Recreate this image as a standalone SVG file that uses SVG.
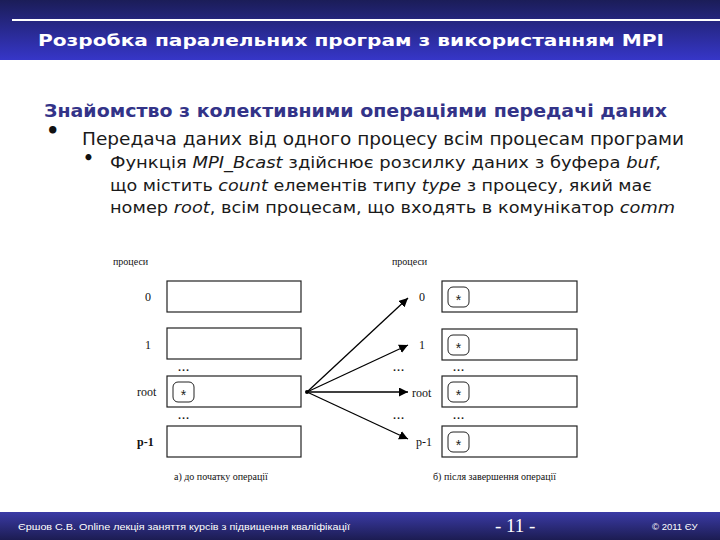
<svg xmlns="http://www.w3.org/2000/svg" width="720" height="540" viewBox="0 0 720 540">
<defs>
<linearGradient id="hdr" x1="0" y1="0" x2="0" y2="1">
<stop offset="0" stop-color="#1b1d58"/>
<stop offset="1" stop-color="#3636c8"/>
</linearGradient>
<linearGradient id="ftr" x1="0" y1="0" x2="0" y2="1">
<stop offset="0" stop-color="#3b3ba6"/>
<stop offset="1" stop-color="#1c1c52"/>
</linearGradient>
<marker id="ah" viewBox="0 0 10 10" refX="10" refY="5" markerWidth="9" markerHeight="9" markerUnits="userSpaceOnUse" orient="auto">
<path d="M0,0 L10,5 L0,10 z" fill="#000"/>
</marker>
<style>
.box{fill:#fff;stroke:#222;stroke-width:1.2}
.st{fill:#fff;stroke:#222;stroke-width:1}
.lbl{font-family:"Liberation Serif",serif;font-size:12px;fill:#111}
.sm{font-family:"Liberation Serif",serif;font-size:10px;fill:#111}
.dots{font-family:"Liberation Sans",sans-serif;font-size:11px;font-weight:bold;fill:#222;letter-spacing:1px}
.star{font-family:"Liberation Sans",sans-serif;font-size:14px;fill:#222;text-anchor:middle}
.body{font-family:"DejaVu Sans","Liberation Sans",sans-serif;fill:#1a1a1a}
.bul{font-family:"DejaVu Sans","Liberation Sans",sans-serif;fill:#111;font-weight:bold}
.ft{font-family:"Liberation Sans",sans-serif;font-size:9.5px;fill:#fff}
.conn{stroke:#000;stroke-width:1.3;fill:none}
</style>
</defs>
<rect width="720" height="540" fill="#fff"/>
<rect x="0" y="0" width="720" height="60" fill="url(#hdr)"/>
<line x1="12" y1="20" x2="720" y2="20" stroke="#fff" stroke-width="2"/>
<text x="38" y="46" font-family="DejaVu Sans,sans-serif" font-weight="bold" font-size="16.5" fill="#fff" textLength="626" lengthAdjust="spacingAndGlyphs">Розробка паралельних програм з використанням MPI</text>

<text x="44" y="117" class="body" font-weight="bold" font-size="17" style="fill:#333388" textLength="623" lengthAdjust="spacingAndGlyphs">Знайомство з колективними операціями передачі даних</text>
<text x="46" y="138" class="bul" font-size="21">•</text>
<text x="82" y="145" class="body" font-size="17" textLength="602" lengthAdjust="spacingAndGlyphs">Передача даних від одного процесу всім процесам програми</text>
<text x="83" y="164" class="bul" font-size="17">•</text>
<text x="110" y="168" class="body" font-size="15" textLength="551" lengthAdjust="spacingAndGlyphs">Функція <tspan font-style="italic">MPI_Bcast</tspan> здійснює розсилку даних з буфера <tspan font-style="italic">buf</tspan>,</text>
<text x="110" y="191" class="body" font-size="15" textLength="542" lengthAdjust="spacingAndGlyphs">що містить <tspan font-style="italic">count</tspan> елементів типу <tspan font-style="italic">type</tspan>  з процесу, який має</text>
<text x="110" y="213" class="body" font-size="15" textLength="565" lengthAdjust="spacingAndGlyphs">номер <tspan font-style="italic">root</tspan>, всім процесам, що входять в комунікатор <tspan font-style="italic">comm</tspan></text>

<g id="left">
<text x="113" y="265" class="sm">процеси</text>
<text x="145" y="301" class="lbl">0</text>
<text x="145" y="349" class="lbl">1</text>
<text x="137" y="396" class="lbl">root</text>
<text x="137" y="446" class="lbl" font-weight="bold">p-1</text>
<text x="178" y="371" class="dots">...</text>
<text x="178" y="419" class="dots">...</text>
<text x="174" y="480" class="sm">а) до початку операції</text>
</g>
<g id="l0"><rect class="box" x="167" y="281" width="134" height="31"/></g>
<g id="l1"><rect class="box" x="167" y="328" width="134" height="31"/></g>
<g id="lroot"><rect class="box" x="167" y="376" width="134" height="31"/><rect class="st" x="173" y="382" width="21" height="20" rx="5"/><text x="183.5" y="400" class="star">*</text></g>
<g id="lp1"><rect class="box" x="167" y="426" width="134" height="31"/></g>

<g id="right">
<text x="392" y="265" class="sm">процеси</text>
<text x="419" y="301" class="lbl">0</text>
<text x="419" y="349" class="lbl">1</text>
<text x="412" y="397" class="lbl">root</text>
<text x="416" y="446" class="lbl">p-1</text>
<text x="393" y="371" class="dots">...</text>
<text x="393" y="419" class="dots">...</text>
<text x="453" y="371" class="dots">...</text>
<text x="453" y="419" class="dots">...</text>
<text x="433" y="480" class="sm">б) після завершення операції</text>
</g>
<g id="r0"><rect class="box" x="442" y="281" width="135" height="31"/><rect class="st" x="448" y="287" width="21" height="20" rx="5"/><text x="458.5" y="305" class="star">*</text></g>
<g id="r1"><rect class="box" x="442" y="329" width="135" height="31"/><rect class="st" x="448" y="335" width="21" height="20" rx="5"/><text x="458.5" y="353" class="star">*</text></g>
<g id="rroot"><rect class="box" x="442" y="376" width="135" height="31"/><rect class="st" x="448" y="382" width="21" height="20" rx="5"/><text x="458.5" y="400" class="star">*</text></g>
<g id="rp1"><rect class="box" x="442" y="426" width="135" height="31"/><rect class="st" x="448" y="432" width="21" height="20" rx="5"/><text x="458.5" y="450" class="star">*</text></g>

<g id="connectors">
<circle cx="307" cy="392" r="2" fill="#000"/>
<line class="conn" x1="307" y1="392" x2="408" y2="298" marker-end="url(#ah)"/>
<line class="conn" x1="307" y1="392" x2="408" y2="345" marker-end="url(#ah)"/>
<line class="conn" x1="307" y1="392" x2="408" y2="392" marker-end="url(#ah)"/>
<line class="conn" x1="307" y1="392" x2="408" y2="439" marker-end="url(#ah)"/>
</g>

<rect x="0" y="512" width="720" height="28" fill="url(#ftr)"/>
<text x="18" y="530" class="ft" textLength="332" lengthAdjust="spacingAndGlyphs">Єршов С.В.  Online лекція заняття курсів з підвищення кваліфікації</text>
<text x="495" y="532" font-family="Liberation Serif,serif" font-size="19" fill="#fff">- 11 -</text>
<text x="652" y="530" class="ft">© 2011 ЄУ</text>
</svg>
